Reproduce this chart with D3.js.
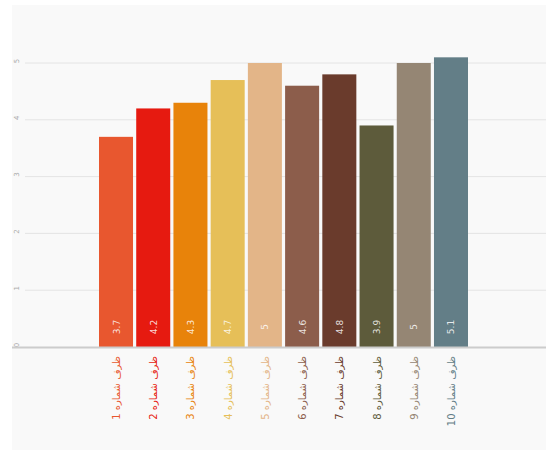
<!DOCTYPE html>
<html>
<head>
<meta charset="utf-8">
<script src="https://d3js.org/d3.v7.min.js"></script>
<style>
  body { margin: 0; background: #ffffff; }
  svg { display: block; font-family: "DejaVu Sans", sans-serif; }
</style>
</head>
<body>
<div id="chart"></div>
<script>
// chart data
var categories = ["ظرف شماره 1", "ظرف شماره 2", "ظرف شماره 3", "ظرف شماره 4", "ظرف شماره 5",
                  "ظرف شماره 6", "ظرف شماره 7", "ظرف شماره 8", "ظرف شماره 9", "ظرف شماره 10"];
var values = [3.7, 4.2, 4.3, 4.7, 5, 4.6, 4.8, 3.9, 5, 5.1];
var valueLabels = ["3.7", "4.2", "4.3", "4.7", "5", "4.6", "4.8", "3.9", "5", "5.1"];
var colors = ["#e8572f", "#e61a10", "#e8830a", "#e6bf58", "#e3b588",
              "#8c5d4b", "#6a3b2c", "#5d5b3b", "#958674", "#637e87"];
var yTicks = [0, 1, 2, 3, 4, 5];

var width = 546, height = 450;

var svg = d3.select("#chart").append("svg")
    .attr("width", width)
    .attr("height", height);

// light panel behind the plot
svg.append("rect")
    .attr("x", 12).attr("y", 5)
    .attr("width", width - 12).attr("height", height - 5)
    .attr("fill", "#f9f9f9");

var x = d3.scaleBand()
    .domain(categories)
    .range([99, 468])
    .paddingInner(0.086)
    .paddingOuter(0);

var y = d3.scaleLinear()
    .domain([0, 5])
    .range([347, 63]);

// gridlines
svg.append("g")
  .selectAll("line")
  .data(yTicks.filter(function(d) { return d > 0; }))
  .enter().append("line")
    .attr("x1", 25).attr("x2", width)
    .attr("y1", function(d) { return y(d); })
    .attr("y2", function(d) { return y(d); })
    .attr("stroke", "#e4e4e4")
    .attr("stroke-width", 1);

// y tick labels (rotated, small)
svg.append("g")
  .selectAll("text")
  .data(yTicks)
  .enter().append("text")
    .attr("transform", function(d) { return "translate(19," + (y(d) - 2) + ") rotate(-90)"; })
    .attr("text-anchor", "middle")
    .attr("font-size", 7)
    .attr("fill", "#aaaaaa")
    .text(function(d) { return d; });

// bars
svg.append("g")
  .selectAll("rect")
  .data(values)
  .enter().append("rect")
    .attr("x", function(d, i) { return x(categories[i]); })
    .attr("width", x.bandwidth())
    .attr("y", function(d) { return y(d); })
    .attr("height", function(d) { return y(0) - y(d); })
    .attr("fill", function(d, i) { return colors[i]; });

// baseline
svg.append("line")
    .attr("x1", 12).attr("x2", width)
    .attr("y1", y(0) + 0.5).attr("y2", y(0) + 0.5)
    .attr("stroke", "#cccccc")
    .attr("stroke-width", 2);

// value labels inside bars
svg.append("g")
  .selectAll("text")
  .data(valueLabels)
  .enter().append("text")
    .attr("transform", function(d, i) {
      return "translate(" + (x(categories[i]) + x.bandwidth() / 2 + 3.5) + ",327) rotate(-90)";
    })
    .attr("text-anchor", "middle")
    .attr("font-size", 9)
    .attr("fill", "#ffffff")
    .attr("fill-opacity", 0.85)
    .text(function(d) { return d; });

// category labels
svg.append("g")
  .selectAll("text")
  .data(categories)
  .enter().append("text")
    .attr("transform", function(d) {
      return "translate(" + (x(d) + x.bandwidth() / 2 + 4) + ",356) rotate(-90)";
    })
    .attr("text-anchor", "end")
    .attr("font-size", 10)
    .attr("fill", function(d, i) { return colors[i]; })
    .text(function(d) { return d; });
</script>
</body>
</html>
